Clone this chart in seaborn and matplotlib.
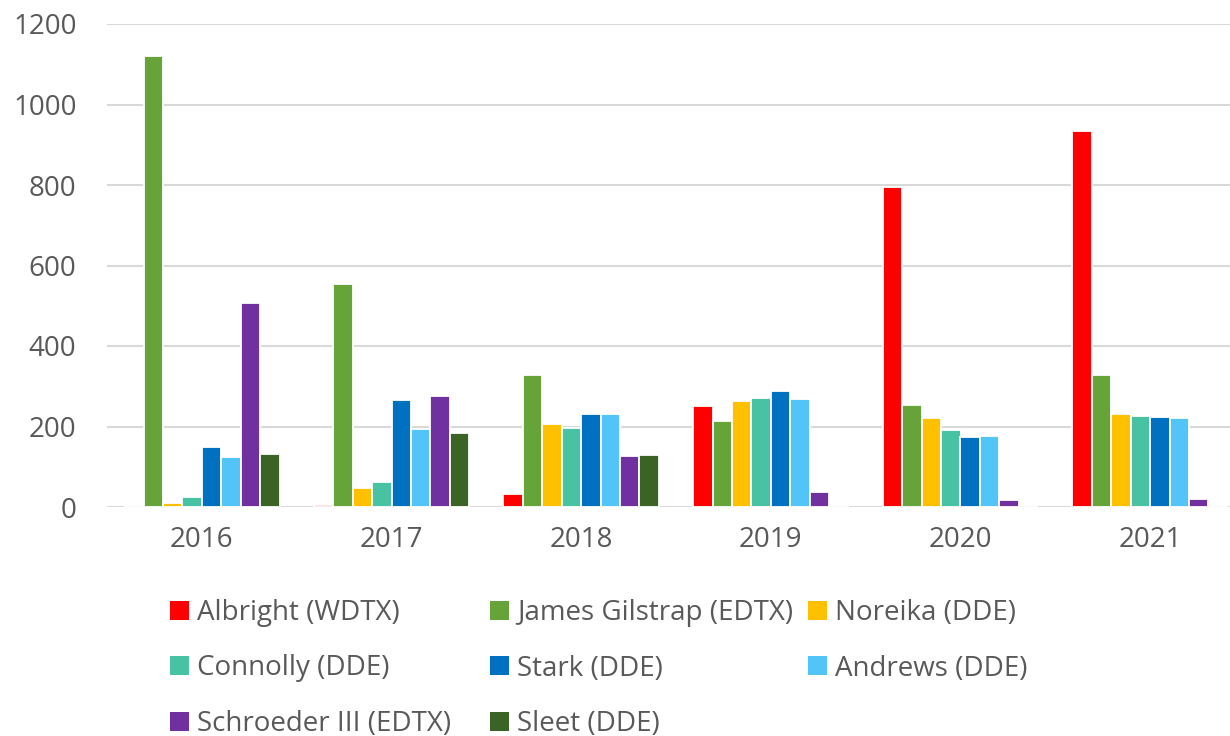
import matplotlib
matplotlib.use("Agg")
import matplotlib.pyplot as plt
from matplotlib.patches import Patch
import seaborn as sns
import pandas as pd

# Yearly case counts per judge
years = ["2016", "2017", "2018", "2019", "2020", "2021"]
judges = [
    "Albright (WDTX)", "James Gilstrap (EDTX)", "Noreika (DDE)",
    "Connolly (DDE)", "Stark (DDE)", "Andrews (DDE)",
    "Schroeder III (EDTX)", "Sleet (DDE)",
]
albright = [0, 5, 33, 252, 795, 934]
gilstrap = [1120, 553, 328, 213, 253, 327]
noreika = [10, 46, 207, 264, 220, 230]
connolly = [25, 62, 197, 271, 191, 227]
stark = [150, 267, 232, 287, 175, 223]
andrews = [125, 195, 230, 268, 177, 220]
schroeder = [508, 275, 126, 37, 17, 21]
sleet = [131, 183, 130, 0, 0, 0]

colors = ["#FF0000", "#66A43A", "#FFC000", "#47C2A3",
          "#0070C0", "#53C4F7", "#7030A0", "#3B6325"]

series = [albright, gilstrap, noreika, connolly, stark, andrews, schroeder, sleet]
rows = []
for judge, vals in zip(judges, series):
    for yr, v in zip(years, vals):
        rows.append({"year": yr, "judge": judge, "cases": v})
df = pd.DataFrame(rows)

sns.set_theme(style="white")
plt.rcParams["font.family"] = ["Open Sans", "DejaVu Sans"]

text_color = "#595959"
grid_color = "#D9D9D9"

fig = plt.figure(figsize=(12.3, 7.36), dpi=100)
ax = fig.add_axes([107 / 1230, 1 - 507 / 736, (1245 - 107) / 1230, (507 - 24) / 736])

sns.barplot(data=df, x="year", y="cases", hue="judge", order=years,
            hue_order=judges, palette=colors, saturation=1, width=0.82,
            edgecolor="white", linewidth=1.3, legend=False, ax=ax, zorder=3)

ax.set_ylim(0, 1200)
ax.set_yticks(range(0, 1201, 200))
ax.yaxis.grid(True, color=grid_color, linewidth=1.5, zorder=0)
ax.set_axisbelow(True)
for s in ax.spines.values():
    s.set_visible(False)
ax.set_xlabel("")
ax.set_ylabel("")
ax.tick_params(axis="both", length=0, labelsize=20, labelcolor=text_color)
ax.tick_params(axis="y", pad=22)
ax.tick_params(axis="x", pad=14)

# Legend laid out in three columns, filled row by row
col_x = [170, 490, 808]
columns = [[0, 3, 6], [1, 4, 7], [2, 5]]
for cx, idxs in zip(col_x, columns):
    handles = [Patch(facecolor=colors[i], edgecolor="none", label=judges[i]) for i in idxs]
    fig.legend(handles=handles, loc="upper left",
               bbox_to_anchor=(cx / 1230, 1 - 599 / 736),
               frameon=False, fontsize=20, labelcolor=text_color,
               handlelength=0.68, handleheight=0.68, handletextpad=0.3,
               labelspacing=0.99, borderpad=0, borderaxespad=0)

fig.savefig("out.png", dpi=100)
